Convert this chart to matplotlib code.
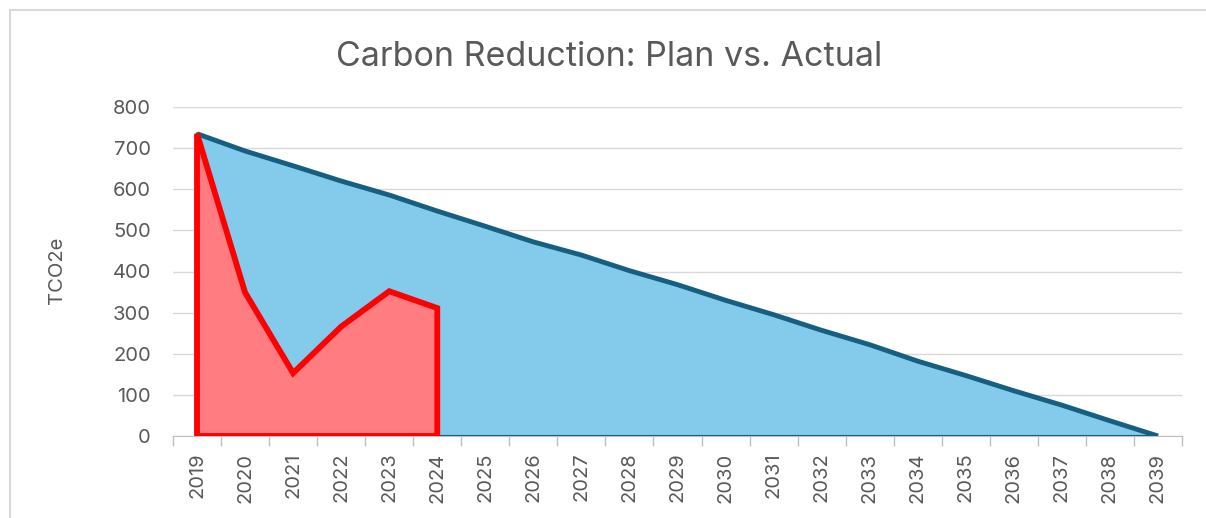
import numpy as np
import matplotlib.pyplot as plt
from matplotlib.patches import Rectangle

# data
years = [str(y) for y in range(2019, 2040)]
plan = [735, 693, 657, 620, 586, 547, 510, 472, 440, 402, 368,
        330, 295, 257, 222, 182, 147, 110, 75, 37, 0]
actual_years = years[:6]
actual = [735, 349, 153, 266, 352, 311]

grey = '#595959'
plt.rcParams['font.family'] = ['Inter', 'DejaVu Sans']

fig = plt.figure(figsize=(12.06, 5.18), dpi=100)
# chart frame (light grey border like the Excel chart area)
fig.patches.append(Rectangle((10 / 1206, -0.1), 1.2, 1 - 10 / 518 + 0.1,
                             transform=fig.transFigure, fill=False,
                             edgecolor='#D9D9D9', lw=1.5))

ax = fig.add_axes([173 / 1206, 1 - 436 / 518, (1182 - 173) / 1206, (436 - 107) / 518])

x = np.arange(len(years))
xa = np.arange(len(actual))

# plan area
px = np.concatenate([[x[0]], x, [x[-1]]])
py = np.concatenate([[0], plan, [0]])
ax.fill(px, py, facecolor='#83CAEB', edgecolor='#156082', lw=1.5, zorder=2)
ax.plot(x, plan, color='#156082', lw=3.5, solid_capstyle='butt', zorder=3)

# actual area
ax_ = np.concatenate([[xa[0]], xa, [xa[-1]]])
ay = np.concatenate([[0], actual, [0]])
ax.fill(ax_, ay, facecolor='#FF7C80', edgecolor='#FF0000', lw=4.2,
        joinstyle='miter', zorder=4)

ax.set_xlim(-0.5, len(years) - 0.5)
ax.set_ylim(0, 800)
ax.set_yticks(range(0, 801, 100))
ax.set_xticks(x)
ax.set_xticklabels(years, rotation=90)
ax.set_xticks(np.arange(-0.5, len(years)), minor=True)
ax.tick_params(axis='x', which='major', length=0, pad=12, labelsize=14.5, labelcolor=grey)
ax.tick_params(axis='x', which='minor', length=7, color='#BFBFBF', width=1)
ax.tick_params(axis='y', length=0, pad=16, labelsize=14.5, labelcolor=grey)

ax.grid(axis='y', color='#D9D9D9', lw=1)
ax.set_axisbelow(True)
for s in ['top', 'right', 'left']:
    ax.spines[s].set_visible(False)
ax.spines['bottom'].set_color('#BFBFBF')
ax.spines['bottom'].set_zorder(1)

fig.text(57 / 1206, 1 - 270 / 518, 'TCO2e', rotation=90, ha='center', va='center',
         fontsize=14.5, color=grey)
fig.text(609 / 1206, 1 - 66 / 518, 'Carbon Reduction: Plan vs. Actual',
         ha='center', va='baseline', fontsize=24.5, color=grey)

fig.savefig('out.png', dpi=100)
